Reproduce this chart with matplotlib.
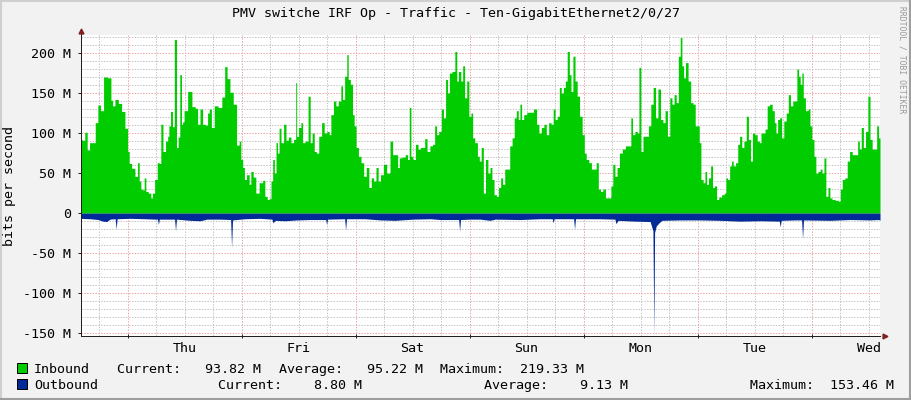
import numpy as np
import matplotlib
matplotlib.use('Agg')
import matplotlib.pyplot as plt
from matplotlib.lines import Line2D
from matplotlib.patches import Rectangle
from matplotlib.transforms import offset_copy

# time in hours from Thursday 00:00, traffic in Mbit/s
hours_in = [
    -9.8, -9.3, -8.7, -8.3, -7.7, -7.1, -6.5, -6.0, -5.4, -4.7,
    -3.7, -3.3, -3.0, -2.3, -1.6, -0.9, -0.2, 0.2, 0.5, 1.2,
    1.9, 2.3, 2.6, 3.0, 3.3, 3.7, 4.0, 4.7, 5.1, 5.4,
    6.0, 6.5, 6.8, 7.2, 7.7, 8.3, 8.6, 8.8, 9.3, 9.6,
    10.1, 10.5, 10.8, 11.2, 11.5, 11.7, 12.1, 13.2, 13.9, 14.6,
    14.9, 15.6, 16.0, 16.7, 17.0, 17.4, 17.9, 18.6, 19.5, 20.2,
    20.7, 21.2, 21.9, 22.6, 23.3, 23.7, 24.0, 24.5, 24.7, 25.4,
    25.8, 26.1, 26.8, 27.2, 27.5, 27.9, 28.3, 28.6, 29.2, 29.6,
    30.0, 30.4, 30.7, 31.1, 31.4, 31.7, 32.1, 32.5, 33.2, 33.5,
    34.2, 34.6, 35.3, 35.5, 35.7, 36.3, 36.7, 37.0, 37.7, 38.3,
    38.6, 39.1, 39.5, 40.0, 40.5, 41.2, 41.6, 42.3, 42.6, 43.0,
    43.7, 44.0, 44.7, 45.1, 45.4, 46.0, 46.3, 46.6, 47.2, 47.5,
    47.9, 48.3, 48.9, 49.4, 50.0, 50.5, 51.1, 51.5, 52.1, 52.5,
    53.0, 53.5, 54.2, 54.9, 55.6, 56.0, 56.7, 57.0, 57.4, 58.1,
    58.8, 59.1, 59.5, 59.8, 60.3, 60.9, 61.4, 61.9, 62.3, 62.8,
    63.3, 64.0, 64.4, 64.9, 65.2, 65.8, 66.3, 66.7, 67.2, 67.5,
    68.0, 68.6, 69.2, 69.4, 69.9, 70.4, 70.7, 71.2, 71.6, 72.1,
    72.5, 72.8, 73.4, 73.9, 74.2, 74.7, 75.1, 75.6, 76.1, 76.5,
    76.9, 77.4, 77.9, 78.3, 78.8, 79.1, 79.7, 80.2, 80.7, 81.2,
    81.6, 82.1, 82.4, 82.8, 83.1, 83.7, 84.4, 85.1, 85.8, 86.4,
    86.8, 87.4, 87.9, 88.4, 88.9, 89.4, 89.8, 90.2, 90.7, 91.1,
    91.5, 92.0, 92.3, 92.8, 93.2, 93.5, 94.0, 94.4, 94.9, 95.4,
    96.0, 96.3, 96.8, 97.4, 97.9, 98.4, 98.9, 99.3, 99.8, 100.3,
    100.9, 101.6, 101.9, 102.4, 102.8, 103.3, 103.8, 104.5, 105.1, 105.8,
    106.1, 106.5, 107.1, 107.5, 107.8, 108.3, 108.7, 109.4, 109.9, 110.4,
    110.9, 111.4, 111.9, 112.5, 112.9, 113.4, 113.9, 114.4, 114.8, 115.3,
    115.7, 116.2, 116.5, 116.9, 117.2, 117.7, 118.3, 118.8, 119.3, 119.7,
    120.2, 120.5, 120.9, 121.4, 121.7, 122.1, 122.5, 123.0, 123.3, 123.8,
    124.2, 124.7, 125.4, 125.8, 126.1, 126.5, 127.0, 127.3, 127.7, 128.3,
    128.6, 129.1, 129.5, 130.0, 130.5, 130.9, 131.4, 131.7, 132.3, 132.8,
    133.2, 133.5, 134.0, 134.4, 134.9, 135.4, 136.0, 136.3, 136.7, 137.0,
    137.5, 137.9, 138.4, 138.9, 139.3, 139.8, 140.3, 140.7, 141.1, 141.4,
    141.8, 142.1, 142.4, 143.0, 143.5, 143.8, 144.3, 144.7, 145.1, 145.6,
    146.0, 146.4, 146.8, 147.2, 147.7, 148.0, 148.6, 149.3, 149.9, 150.2,
    150.7, 151.3, 151.7, 152.3, 152.8, 153.5, 153.9, 154.2, 154.7, 155.1,
    155.6, 156.1, 156.5, 157.0, 157.5, 157.9, 158.3, 158.4,
]
inbound = [
    92, 91, 101, 79, 88, 88, 113, 135, 128, 170,
    169, 141, 134, 142, 137, 127, 106, 77, 62, 56,
    46, 63, 40, 30, 29, 44, 27, 25, 19, 25,
    42, 63, 62, 111, 77, 90, 96, 109, 127, 108,
    217, 82, 95, 173, 111, 114, 128, 152, 133, 131,
    111, 130, 111, 110, 125, 130, 107, 134, 132, 145,
    183, 168, 151, 136, 85, 90, 67, 57, 42, 48,
    36, 52, 45, 25, 25, 38, 38, 41, 21, 17,
    18, 40, 67, 50, 88, 75, 106, 88, 111, 91,
    95, 88, 92, 163, 96, 107, 113, 88, 90, 146,
    88, 100, 77, 75, 96, 113, 100, 102, 98, 123,
    140, 134, 140, 159, 142, 171, 198, 167, 161, 123,
    109, 82, 71, 63, 46, 57, 32, 44, 40, 57,
    40, 48, 61, 50, 90, 73, 73, 57, 69, 70,
    73, 67, 132, 71, 67, 86, 80, 82, 82, 93,
    77, 84, 86, 109, 98, 102, 130, 119, 167, 150,
    175, 177, 202, 165, 177, 165, 184, 144, 165, 121,
    125, 94, 88, 71, 65, 82, 25, 67, 50, 57,
    42, 23, 21, 32, 44, 36, 55, 55, 84, 94,
    119, 128, 117, 136, 117, 123, 126, 126, 130, 111,
    100, 107, 111, 98, 113, 111, 130, 117, 121, 157,
    150, 157, 165, 202, 173, 152, 196, 165, 146, 121,
    98, 75, 67, 63, 55, 55, 63, 30, 27, 30,
    19, 19, 34, 61, 46, 57, 75, 80, 84, 84,
    119, 98, 102, 100, 182, 77, 96, 96, 109, 136,
    157, 119, 155, 117, 113, 128, 96, 144, 136, 148,
    138, 196, 219.33, 184, 169, 188, 165, 138, 136, 109,
    109, 88, 42, 38, 52, 36, 44, 59, 32, 34,
    17, 20, 23, 25, 44, 42, 59, 65, 59, 63,
    86, 96, 82, 90, 121, 92, 65, 100, 98, 90,
    88, 100, 100, 105, 134, 136, 128, 113, 100, 117,
    119, 94, 115, 125, 148, 134, 140, 140, 180, 171,
    161, 175, 144, 128, 130, 109, 92, 71, 50, 52,
    55, 50, 69, 21, 32, 19, 17, 16, 15, 30,
    42, 44, 65, 77, 73, 73, 90, 80, 107, 82,
    102, 146, 92, 80, 80, 109, 94, 93.82,
]
hours_out = [
    -9.8, -7.9, -6.2, -5.2, -4.4, -3.7, -2.8, -2.6, -2.4, -2.2,
    0.5, 3.7, 6.0, 6.3, 6.5, 6.7, 8.9, 9.9, 10.1, 10.3,
    13.2, 15.3, 16.7, 19.5, 21.7, 21.9, 22.1, 24.7, 27.9, 30.4,
    30.6, 31.1, 33.2, 35.7, 38.4, 41.7, 41.9, 42.1, 45.7, 45.9,
    46.1, 50.0, 53.2, 56.3, 60.1, 63.7, 65.8, 69.7, 69.9, 70.1,
    72.1, 74.2, 76.3, 77.4, 82.6, 86.8, 89.4, 89.6, 89.8, 93.9,
    94.1, 94.3, 99.5, 102.6, 102.8, 103.3, 106.8, 110.0, 110.6, 110.8,
    110.95, 111.3, 111.9, 112.5, 116.3, 120.5, 124.7, 128.9, 133.2, 137.2,
    137.4, 137.6, 140.5, 141.9, 142.1, 142.3, 147.9, 152.1, 156.3, 158.1,
    158.4,
]
outbound = [
    6.5, 7, 8, 10, 10.5, 7.5, 7, 7, 20, 7,
    6.5, 7, 7.5, 7.5, 14, 7.5, 7.5, 7.5, 22, 7.5,
    9, 9.5, 7.5, 7.5, 8, 43, 8.5, 7, 6.5, 7.5,
    12, 9, 9.5, 8.5, 8, 8, 14, 7.5, 7, 21,
    7, 7, 8.5, 9, 7.5, 7, 8, 8, 22, 8,
    7.5, 7.5, 9, 7.5, 8, 7, 7, 12, 7, 7,
    20, 7, 7, 7.5, 13, 9, 10, 10.5, 22, 153.46,
    24, 16, 12, 9, 8.5, 8.5, 9, 10, 9.5, 10,
    17, 9, 8.5, 8.5, 32, 8.5, 9, 8, 8.5, 8,
    8.8,
]

days = ['Thu', 'Fri', 'Sat', 'Sun', 'Mon', 'Tue', 'Wed']
day_noon = [12 + 24 * i for i in range(len(days))]
y_ticks = [-150, -100, -50, 0, 50, 100, 150, 200]
y_labels = ['0' if v == 0 else f'{v} M' for v in y_ticks]

in_stats = ['93.82', '95.22', '219.33']
out_stats = ['8.80', '9.13', '153.46']

title = 'PMV switche IRF Op - Traffic - Ten-GigabitEthernet2/0/27'

t_start, t_end = -9.8, 158.4
y_min, y_max = -153.46, 222.5

# rrdtool default colours
BACK = '#F2F2F2'
SHADEA = '#CFCFCF'
SHADEB = '#9E9E9E'
GRID = '#C4C4C4'
MGRID = '#EFA5A5'
AXIS = '#212121'
ARROW = '#802121'
GREEN = '#00CC00'
BLUE = '#002A97'
MONO = 'DejaVu Sans Mono'
FS = 9.6

W, H = 911, 400


def fx(x):
    return x / W


def fy(y):
    return 1 - y / H


fig = plt.figure(figsize=(W / 100, H / 100), dpi=100, facecolor=BACK)
ax = fig.add_axes([fx(81), fy(336), fx(880) - fx(81), fy(35) - fy(336)])
ax.set_facecolor('white')

# grid, dotted like rrdtool
dot = (0, (1.4, 1.4))
for h in range(-6, 160, 6):
    if t_start < h < t_end:
        ax.axvline(h, color=MGRID if h % 24 == 0 else GRID, lw=0.72,
                   ls=dot, zorder=1)
for v in range(-150, 221, 10):
    ax.axhline(v, color=MGRID if v % 50 == 0 else GRID, lw=0.72,
               ls=dot, zorder=1)

ax.fill_between(hours_in, inbound, 0, color=GREEN, lw=0, zorder=2,
                step='mid')
ax.fill_between(hours_out, -np.array(outbound), 0, color=BLUE, lw=0,
                zorder=2)

ax.set_xlim(t_start, t_end)
ax.set_ylim(y_min, y_max)

ax.set_xticks(range(0, 160, 24))
ax.set_xticklabels([])
ax.set_xticks(day_noon, labels=days, minor=True)
ax.tick_params(axis='x', which='major', length=3, width=0.72, color=AXIS,
               direction='inout')
ax.tick_params(axis='x', which='minor', length=0, pad=4.3)
ax.set_yticks(y_ticks, labels=y_labels)
ax.tick_params(axis='y', length=2, width=0.72, color=AXIS, pad=5)
for lab in ax.get_xticklabels(minor=True) + ax.get_yticklabels():
    lab.set_fontfamily(MONO)
    lab.set_fontsize(FS)

for side in ['top', 'right']:
    ax.spines[side].set_visible(False)
for side in ['left', 'bottom']:
    ax.spines[side].set_color(AXIS)
    ax.spines[side].set_linewidth(0.72)
    ax.spines[side].set_zorder(3)

# axis arrows
up = offset_copy(ax.transAxes, fig=fig, x=0, y=4, units='dots')
ax.plot([0], [1], marker='^', ms=3.5, color=ARROW, transform=up,
        clip_on=False, zorder=4)
ax.add_line(Line2D([0, 0], [1, 1.01], color=AXIS, lw=0.72,
                   transform=ax.transAxes, clip_on=False))
right = offset_copy(ax.transAxes, fig=fig, x=5, y=0, units='dots')
ax.plot([1], [0], marker='>', ms=3.5, color=ARROW, transform=right,
        clip_on=False, zorder=4)

fig.text(fx(455.5), fy(14), title, family=MONO, size=FS,
         ha='center', va='center')
fig.text(fx(10), fy(185.5), 'bits per second', family=MONO, size=FS,
         rotation=90, ha='center', va='center')
fig.text(fx(902), fy(6), 'RRDTOOL / TOBI OETIKER', family=MONO, size=5.8,
         rotation=270, ha='center', va='top', color='#999999')

# legend
rows = [
    ('Inbound', GREEN, in_stats, 373, [117, 279, 440]),
    ('Outbound', BLUE, out_stats, 389, [218, 484, 750]),
]
names = ['Current:', 'Average:', 'Maximum:']
for label, col, stats, base, xs in rows:
    fig.patches.append(Rectangle((fx(17), fy(base)), fx(10), 10 / H,
                                 facecolor=col, edgecolor='black', lw=0.72,
                                 transform=fig.transFigure))
    fig.text(fx(34), fy(base), label, family=MONO, size=FS, va='baseline')
    for name, val, x in zip(names, stats, xs):
        fig.text(fx(x), fy(base), f'{name}{val:>8} M', family=MONO,
                 size=FS, va='baseline')

# 3d frame
fig.add_artist(Line2D([0, 1], [1 - 1 / H, 1 - 1 / H], color=SHADEA, lw=1.5))
fig.add_artist(Line2D([1 / W, 1 / W], [0, 1], color=SHADEA, lw=1.5))
fig.add_artist(Line2D([0, 1], [1 / H, 1 / H], color=SHADEB, lw=1.5))
fig.add_artist(Line2D([1 - 1 / W, 1 - 1 / W], [0, 1], color=SHADEB, lw=1.5))

fig.savefig('out.png', dpi=100, facecolor=BACK)
